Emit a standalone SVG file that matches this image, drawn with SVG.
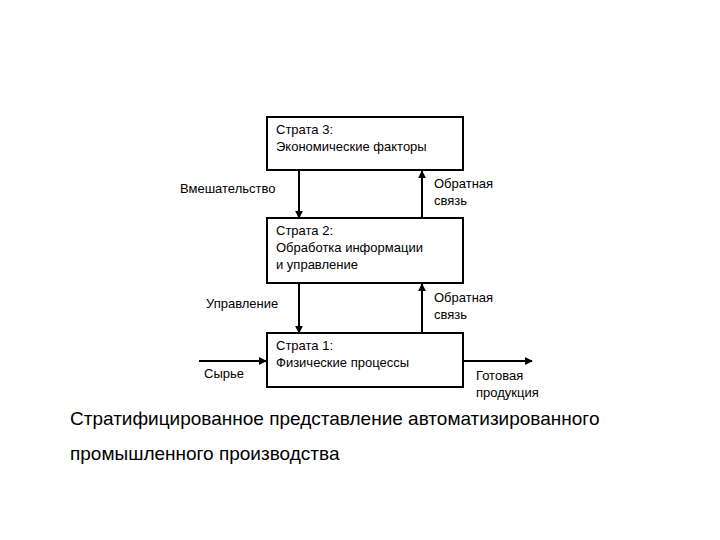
<svg xmlns="http://www.w3.org/2000/svg" width="720" height="540" viewBox="0 0 720 540">
<style>
rect{fill:#fff;stroke:#000;stroke-width:2}
line{stroke:#000;stroke-width:2;marker-end:url(#a)}
text{font-family:"Liberation Sans",Arial,sans-serif;font-size:13px;fill:#000}
.t{font-size:19px}
</style>
<defs><marker id="a" viewBox="0 0 10 10" refX="9" refY="5" markerWidth="4" markerHeight="4" orient="auto"><path d="M0,0L10,5L0,10z" fill="#000"/></marker></defs>
<rect width="720" height="540" style="stroke:none"/>
<g id="connectors">
<line x1="299" y1="170" x2="299" y2="218"/>
<line x1="422" y1="218" x2="422" y2="171"/>
<line x1="299" y1="283" x2="299" y2="333"/>
<line x1="422" y1="333" x2="422" y2="284"/>
<line x1="199" y1="361" x2="266" y2="361"/>
<line x1="463" y1="361" x2="532" y2="361"/>
<text x="180" y="193">Вмешательство</text>
<text x="434" y="188">Обратная</text><text x="434" y="205">связь</text>
<text x="206" y="308">Управление</text>
<text x="434" y="302">Обратная</text><text x="434" y="319">связь</text>
<text x="204" y="378">Сырье</text>
<text x="476" y="380">Готовая</text><text x="476" y="397">продукция</text>
</g>
<g id="s3"><rect x="267" y="117" width="196" height="53"/><text x="276" y="134">Страта 3:</text><text x="276" y="151">Экономические факторы</text></g>
<g id="s2"><rect x="267" y="218" width="196" height="65"/><text x="276" y="235">Страта 2:</text><text x="276" y="252">Обработка информации</text><text x="276" y="269">и управление</text></g>
<g id="s1"><rect x="267" y="333" width="196" height="54"/><text x="276" y="350">Страта 1:</text><text x="276" y="367">Физические процессы</text></g>
<text class="t" x="70" y="425">Стратифицированное представление автоматизированного</text>
<text class="t" x="70" y="460">промышленного производства</text>
</svg>
